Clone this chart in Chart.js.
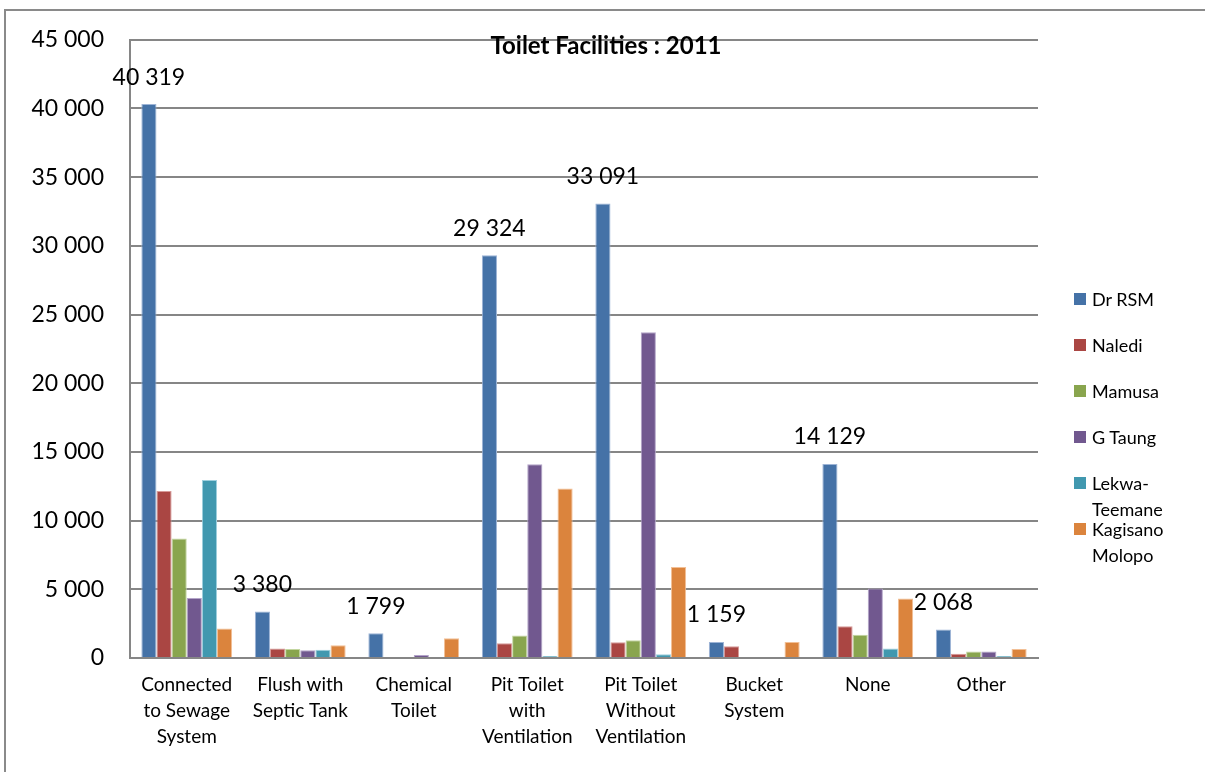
<!DOCTYPE html>
<html>
<head>
<meta charset="utf-8">
<script src="https://cdn.jsdelivr.net/npm/chart.js@4/dist/chart.umd.min.js"></script>
<style>
  html, body { margin: 0; padding: 0; background: #fff; }
  #wrap { position: relative; width: 1205px; height: 772px; overflow: hidden; }
  #frame { position: absolute; left: 4px; top: 9px; width: 1300px; height: 900px;
           border-left: 2px solid #8a8a8a; border-top: 2px solid #8a8a8a; box-sizing: border-box; }
  canvas { position: absolute; left: 0; top: 0; }
  #legend { position: absolute; left: 1074px; top: 286px; font-family: Lato, "Open Sans", sans-serif;
            font-size: 18px; color: #000; }
  .item { height: 46px; display: flex; align-items: flex-start; }
  .sw { width: 12px; height: 12px; margin-top: 7px; margin-right: 6px; flex: none; }
  .txt { line-height: 26px; width: 100px; }
</style>
</head>
<body>
<div id="wrap">
  <div id="frame"></div>
  <canvas id="c" width="1205" height="772"></canvas>
  <div id="legend"></div>
</div>
<script>
// Toilet facilities by municipality, 2011 (households)
const categories = [
  ["Connected", "to Sewage", "System"],
  ["Flush with", "Septic Tank"],
  ["Chemical", "Toilet"],
  ["Pit Toilet", "with", "Ventilation"],
  ["Pit Toilet", "Without", "Ventilation"],
  ["Bucket", "System"],
  ["None"],
  ["Other"]
];
const seriesNames = ["Dr RSM", "Naledi", "Mamusa", "G Taung", "Lekwa-Teemane", "Kagisano Molopo"];
const drRSM    = [40319, 3380, 1799, 29324, 33091, 1159, 14129, 2068];
const naledi   = [12150,  700,    0,  1065,  1140,  850,  2320,  310];
const mamusa   = [ 8700,  650,    0,  1645,  1300,    0,  1690,  480];
const gTaung   = [ 4370,  560,  220, 14110, 23720,    0,  5050,  480];
const lekwa    = [12950,  600,    0,   150,   270,    0,   700,  140];
const kagisano = [ 2150,  920, 1430, 12340,  6620, 1160,  4330,  650];
const yTicks = [0, 5000, 10000, 15000, 20000, 25000, 30000, 35000, 40000, 45000];

const colors = ["#4572A7", "#AA4643", "#89A54E", "#71588F", "#4198AF", "#DB843D"];
const borders = ["#9db4d6", "#d79a98", "#c3d6a0", "#b3a4c8", "#9fd0de", "#f2bf95"];
const seriesData = [drRSM, naledi, mamusa, gTaung, lekwa, kagisano];
const FONT = "Lato, 'Open Sans', sans-serif";

function fmt(v) {
  return String(Math.round(v)).replace(/\B(?=(\d{3})+(?!\d))/g, " ");
}

// Value labels above the Dr RSM bars, plus the title
const overlay = {
  id: "overlay",
  afterDatasetsDraw(chart) {
    const ctx = chart.ctx;
    const meta = chart.getDatasetMeta(0);
    ctx.save();
    ctx.font = "23px " + FONT;
    ctx.fillStyle = "#000";
    ctx.textAlign = "center";
    ctx.textBaseline = "middle";
    meta.data.forEach((bar, i) => {
      ctx.fillText(fmt(drRSM[i]), bar.x, bar.y - 27);
    });
    ctx.font = "bold 24px " + FONT;
    ctx.fillText("Toilet Facilities : 2011", 606, 46);
    ctx.restore();
  }
};

new Chart(document.getElementById("c"), {
  type: "bar",
  data: {
    labels: categories,
    datasets: seriesNames.map((name, i) => ({
      label: name,
      data: seriesData[i],
      backgroundColor: colors[i],
      borderColor: borders[i],
      borderWidth: 1,
      categoryPercentage: 0.8,
      barPercentage: 1.0
    }))
  },
  options: {
    responsive: false,
    animation: false,
    events: [],
    layout: { padding: { top: 37, right: 167, bottom: 0, left: 0 } },
    plugins: { legend: { display: false }, tooltip: { enabled: false }, title: { display: false } },
    scales: {
      x: {
        grid: { display: false, drawTicks: false },
        border: { display: true, color: "#868686", width: 2 },
        ticks: { font: { family: FONT, size: 19, lineHeight: 1.37 }, color: "#000", padding: 14, maxRotation: 0, autoSkip: false },
        afterFit(scale) { scale.height = 114; }
      },
      y: {
        min: 0, max: 45000,
        afterBuildTicks(scale) { scale.ticks = yTicks.map(v => ({ value: v })); },
        grid: { color: "#868686", lineWidth: 2, drawTicks: false },
        border: { display: true, color: "#868686", width: 2 },
        ticks: { font: { family: FONT, size: 23 }, color: "#000", padding: 26, callback: v => fmt(v) },
        afterFit(scale) { scale.width = 130; }
      }
    }
  },
  plugins: [overlay]
});

// Legend on the right
const legend = document.getElementById("legend");
seriesNames.forEach((name, i) => {
  const item = document.createElement("div");
  item.className = "item";
  const sw = document.createElement("div");
  sw.className = "sw";
  sw.style.background = colors[i];
  const t = document.createElement("div");
  t.className = "txt";
  t.textContent = name;
  item.appendChild(sw);
  item.appendChild(t);
  legend.appendChild(item);
});
</script>
</body>
</html>
